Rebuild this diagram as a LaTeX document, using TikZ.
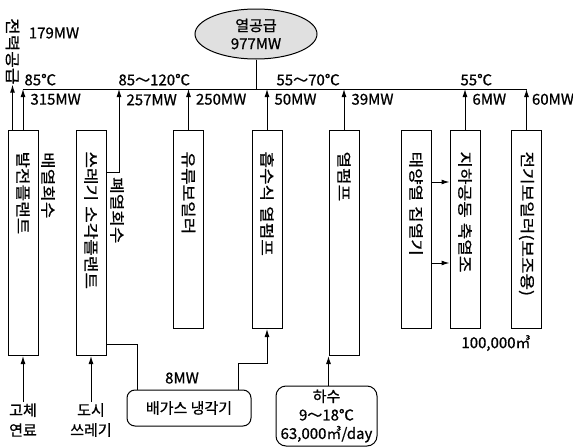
\documentclass[tikz,border=0pt]{standalone}
\usepackage{fontspec}
\setmainfont{Noto Sans CJK KR}[FakeBold=0.8]
\newfontfamily\vertfont[FakeStretch=1.2, FakeBold=0.8]{Noto Sans CJK KR}
\usetikzlibrary{
  arrows.meta,
  positioning,
  shapes.geometric,
  calc
}

\begin{document}
\begin{tikzpicture}[
  x=1pt, y=-1pt,
  wire/.style={line width=1pt},
  arr/.style={wire, -{Latex[length=8pt, width=5pt]}},
  unit/.style={draw, line width=1pt, rotate=-90, anchor=west, minimum height=30pt, inner xsep=21pt, inner ysep=0pt, align=left, font=\vertfont\fontsize{15}{18}\selectfont},
  unitlong/.style={unit, text width=183pt},
  unitshort/.style={unit, text width=156pt},
  vtext/.style={rotate=-90, anchor=west, inner sep=0pt, font=\vertfont\fontsize{15}{18}\selectfont},
  lbl/.style={inner sep=1pt, font=\fontsize{15}{20}\selectfont, align=center},
  mw/.style={lbl, anchor=west, inner sep=0pt, xshift=7pt},
  temp/.style={lbl, anchor=south west, inner sep=0pt, yshift=3pt},
  rbox/.style={draw, line width=1pt, rounded corners=8pt, inner sep=1pt, font=\fontsize{15}{18.5}\selectfont, align=center},
]
\useasboundingbox (0,0) rectangle (573,447);

% heat supply
\node[ellipse, draw, line width=1pt, fill=black!12, minimum width=122pt, minimum height=50pt, inner sep=0pt, align=center, font=\fontsize{15}{18}\selectfont] (heat) at (256,34) {열공급\\977MW};
\coordinate (bus) at (256,89);

% plants
\node[unitlong] (b1) at (23,130) {발전플랜트};
\node[unitlong] (b2) at (91,130) {쓰레기 소각플랜트};
\node[unitshort] (b3) at (188.5,130) {유류보일러};
\node[unitshort] (b4) at (267,130) {흡수식 열펌프};
\node[unitlong] (b5) at (344,130) {열펌프};
\node[unitshort] (b6) at (416,130) {태양열 집열기};
\node[unitshort] (b7) at (465,130) {지하공동 축열조};
\node[unitshort] (b8) at (526.5,130) {전기보일러(보조용)};

% side texts
\node[vtext] (pw) at (12.5,18) {전력공급};
\node[lbl] (pwmw) at (54,33) {179MW};
\node[vtext] (recov) at (48,152) {배열회수};
\node[vtext] (waste) at (117,177) {폐열회수};
\coordinate (wup) at (119,172);

% inputs
\node[lbl] (fuel) at (23,420) {고체\\연료};
\node[lbl] (city) at (91,420) {도시\\쓰레기};
\node[rbox, minimum width=124pt, minimum height=36pt] (gas) at (189,408) {배가스 냉각기};
\node[lbl] (gasmw) at (182,378) {8MW};
\node[rbox, rounded corners=10pt, minimum width=101pt, minimum height=60pt] (sewer) at (326.5,416) {하수\\9～18℃\\63,000㎥/day};
\node[lbl] (vol) at (496,343) {100,000㎥};

% header
\draw[wire] (heat) -- (bus);
\draw[wire] (b1.west |- bus) -- (b8.west |- bus);

\draw[arr] (pw.east |- b1.west) -- (pw.east);
\draw[arr] (b1.west) -- (b1.west |- bus) node[mw, near end] {315MW} node[temp, pos=1, xshift=1pt] {85℃};
\draw[arr] (wup -| b2.north) -- (wup) -- (wup |- bus) node[mw, pos=0.87] {257MW} node[temp, pos=1, xshift=-1pt] {85～120℃};
\draw[arr] (b3.west) -- (b3.west |- bus) node[mw, near end] {250MW};
\draw[arr] (b4.west) -- (b4.west |- bus) node[mw, near end] {50MW} node[temp, pos=1, xshift=9pt] {55～70℃};
\draw[arr] (b5.west) -- (b5.west |- bus) node[mw, near end] {39MW};
\draw[arr] (b7.west) -- (b7.west |- bus) node[mw, near end] {6MW} node[temp, pos=1, xshift=-5pt] {55℃};
\draw[arr] (b8.west) -- (b8.west |- bus) node[mw, near end, xshift=-2pt] {60MW};

% solar to storage
\draw[arr] ([yshift=-52pt]b6.north west) -- ([yshift=-52pt]b7.south west);
\draw[arr] ([yshift=-133pt]b6.north west) -- ([yshift=-133pt]b7.south west);

% bottom feeds
\draw[arr] (fuel) -- (b1.east);
\draw[arr] (city) -- (b2.east);
\draw[wire] ([xshift=15pt, yshift=12pt]b2.east) -| ([xshift=11pt]gas.north west);
\draw[arr] ([xshift=-13pt]gas.north east) |- ($(b4.east)+(0,34)$) -- (b4.east);
\draw[arr] (b5.south east |- sewer.north) -- (b5.south east);

\end{tikzpicture}
\end{document}
